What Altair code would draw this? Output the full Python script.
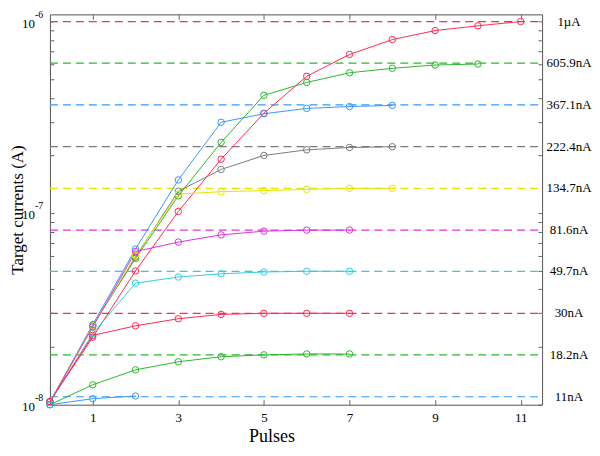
import altair as alt
import pandas as pd

FONT = "Times New Roman, Liberation Serif, serif"

# Target currents (horizontal dashed lines) and their labels
target_labels = ["1µA", "605.9nA", "367.1nA", "222.4nA", "134.7nA",
                 "81.6nA", "49.7nA", "30nA", "18.2nA", "11nA"]
target_values = [1.0e-6, 605.9e-9, 367.1e-9, 222.4e-9, 134.7e-9,
                 81.6e-9, 49.7e-9, 30.0e-9, 18.2e-9, 11.0e-9]
target_colors = ["#ff2a50", "#2db82d", "#3399ff", "#7a7a7a", "#e6e600",
                 "#dd33dd", "#33ccdd", "#ff2a50", "#2db82d", "#3399ff"]

# Measured currents per pulse (pulse index starts at 0)
series_1uA = [1.04e-8, 2.25e-8, 4.99e-8, 1.02e-7, 1.91e-7, 3.32e-7,
              5.18e-7, 6.73e-7, 8.05e-7, 8.97e-7, 9.5e-7, 1.0e-6]
series_605nA = [1.03e-8, 2.6e-8, 5.8e-8, 1.23e-7, 2.34e-7, 4.12e-7,
                4.81e-7, 5.4e-7, 5.7e-7, 5.93e-7, 6.0e-7]
series_367nA = [1.03e-8, 2.62e-8, 6.5e-8, 1.49e-7, 2.98e-7, 3.3e-7,
                3.52e-7, 3.6e-7, 3.65e-7]
series_222nA = [1.03e-8, 2.58e-8, 5.9e-8, 1.3e-7, 1.69e-7, 2.0e-7,
                2.14e-7, 2.2e-7, 2.22e-7]
series_134nA = [1.03e-8, 2.58e-8, 6.0e-8, 1.256e-7, 1.294e-7, 1.31e-7,
                1.33e-7, 1.347e-7, 1.347e-7]
series_81nA = [1.03e-8, 2.55e-8, 6.3e-8, 7.06e-8, 7.7e-8, 8.05e-8,
               8.15e-8, 8.16e-8]
series_49nA = [1.03e-8, 2.35e-8, 4.31e-8, 4.64e-8, 4.82e-8, 4.93e-8,
               4.97e-8, 4.97e-8]
series_30nA = [1.04e-8, 2.3e-8, 2.58e-8, 2.81e-8, 2.96e-8, 3.0e-8,
               3.0e-8, 3.0e-8]
series_18nA = [1.0e-8, 1.27e-8, 1.52e-8, 1.675e-8, 1.78e-8, 1.82e-8,
               1.84e-8, 1.84e-8]
series_11nA = [1.0e-8, 1.075e-8, 1.11e-8]

series_list = [series_1uA, series_605nA, series_367nA, series_222nA,
               series_134nA, series_81nA, series_49nA, series_30nA,
               series_18nA, series_11nA]

x_domain = [0, 11.5]
y_domain = [1.0e-8, 1.09e-6]
x_ticks = [1, 3, 5, 7, 9, 11]
y_ticks = [m * 10.0 ** e for e in (-8, -7) for m in range(1, 10)] + [1.0e-6]
decades = [1.0e-8, 1.0e-7, 1.0e-6]
decade_exps = ["-8", "-7", "-6"]

rows = []
for name, vals in zip(target_labels, series_list):
    for i, v in enumerate(vals):
        rows.append({"name": name, "pulse": i, "current": v})
df_series = pd.DataFrame(rows)

df_targets = pd.DataFrame({
    "name": target_labels,
    "value": target_values,
    "start": [x_domain[0]] * len(target_labels),
    "end": [x_domain[1]] * len(target_labels),
})
df_dec = pd.DataFrame({"value": decades, "exp": decade_exps})

W, H = 493, 391

xscale = alt.Scale(domain=x_domain, nice=False, zero=False)
yscale = alt.Scale(type="log", domain=y_domain, nice=False)
cscale = alt.Scale(domain=target_labels, range=target_colors)
color = alt.Color("name:N", scale=cscale, legend=None)

TICK = "#666666"

ax_x_main = alt.Axis(orient="bottom", values=x_ticks, ticks=False, domain=False,
                     grid=False, labelFont=FONT, labelFontSize=13,
                     labelColor="black", labelPadding=7, title="Pulses",
                     titleFont=FONT, titleFontSize=18, titleFontWeight="normal",
                     titleColor="black", titleX=222, titleY=37,
                     titleBaseline="alphabetic")
ax_x_in_bottom = alt.Axis(orient="top", offset=-H, values=x_ticks, labels=False,
                          domain=False, grid=False, tickSize=5, tickColor=TICK,
                          title=None)
ax_x_in_top = alt.Axis(orient="bottom", offset=-H, values=x_ticks, labels=False,
                       domain=False, grid=False, tickSize=5, tickColor=TICK,
                       title=None)
ax_y_main = alt.Axis(orient="left", labels=False, ticks=False, domain=False,
                     grid=False, title="Target currents (A)", titleFont=FONT,
                     titleFontSize=17, titleFontWeight="normal",
                     titleColor="black", titlePadding=23)
ax_y_in_left = alt.Axis(orient="right", offset=-W, values=y_ticks, labels=False,
                        domain=False, grid=False, tickSize=4, tickColor=TICK,
                        title=None)
ax_y_in_right = alt.Axis(orient="left", offset=-W, values=y_ticks, labels=False,
                         domain=False, grid=False, tickSize=4, tickColor=TICK,
                         title=None)

rules = alt.Chart(df_targets).mark_rule(strokeDash=[8, 5], strokeWidth=1.2).encode(
    x=alt.X("start:Q", scale=xscale, axis=ax_x_in_top),
    x2="end:Q",
    y=alt.Y("value:Q", scale=yscale, axis=ax_y_in_right),
    color=color,
)

lines = alt.Chart(df_series).mark_line(strokeWidth=1).encode(
    x=alt.X("pulse:Q", scale=xscale, axis=ax_x_main),
    y=alt.Y("current:Q", scale=yscale, axis=ax_y_main),
    color=color,
    order="pulse:Q",
)

points = alt.Chart(df_series).mark_point(shape="circle", filled=False, size=42,
                                         strokeWidth=1, opacity=1).encode(
    x=alt.X("pulse:Q", scale=xscale, axis=ax_x_in_bottom),
    y=alt.Y("current:Q", scale=yscale, axis=ax_y_in_left),
    color=color,
)

labels = alt.Chart(df_targets).mark_text(font=FONT, fontSize=13, align="center",
                                         baseline="middle", color="black").encode(
    x=alt.value(W + 27),
    y=alt.Y("value:Q", scale=yscale, axis=None),
    text="name:N",
)

dec_base = alt.Chart(df_dec).mark_text(font=FONT, fontSize=13, align="right",
                                       baseline="middle", dy=2,
                                       color="black").encode(
    x=alt.value(-15),
    y=alt.Y("value:Q", scale=yscale, axis=None),
    text=alt.value("10"),
)

dec_exp = alt.Chart(df_dec).mark_text(font=FONT, fontSize=10, align="left",
                                      baseline="middle", dy=-7,
                                      color="black").encode(
    x=alt.value(-15),
    y=alt.Y("value:Q", scale=yscale, axis=None),
    text="exp:N",
)

chart = alt.layer(rules, lines, points, labels, dec_base, dec_exp).resolve_axis(
    x="independent", y="independent"
).properties(
    width=W, height=H,
    autosize=alt.AutoSizeParams(type="none"),
    padding={"left": 42, "top": 6, "right": 50, "bottom": 40},
    background="white",
).configure_view(
    stroke="#555555", strokeWidth=1
)

chart.save("out.html", embed_options={"renderer": "svg", "actions": False})
